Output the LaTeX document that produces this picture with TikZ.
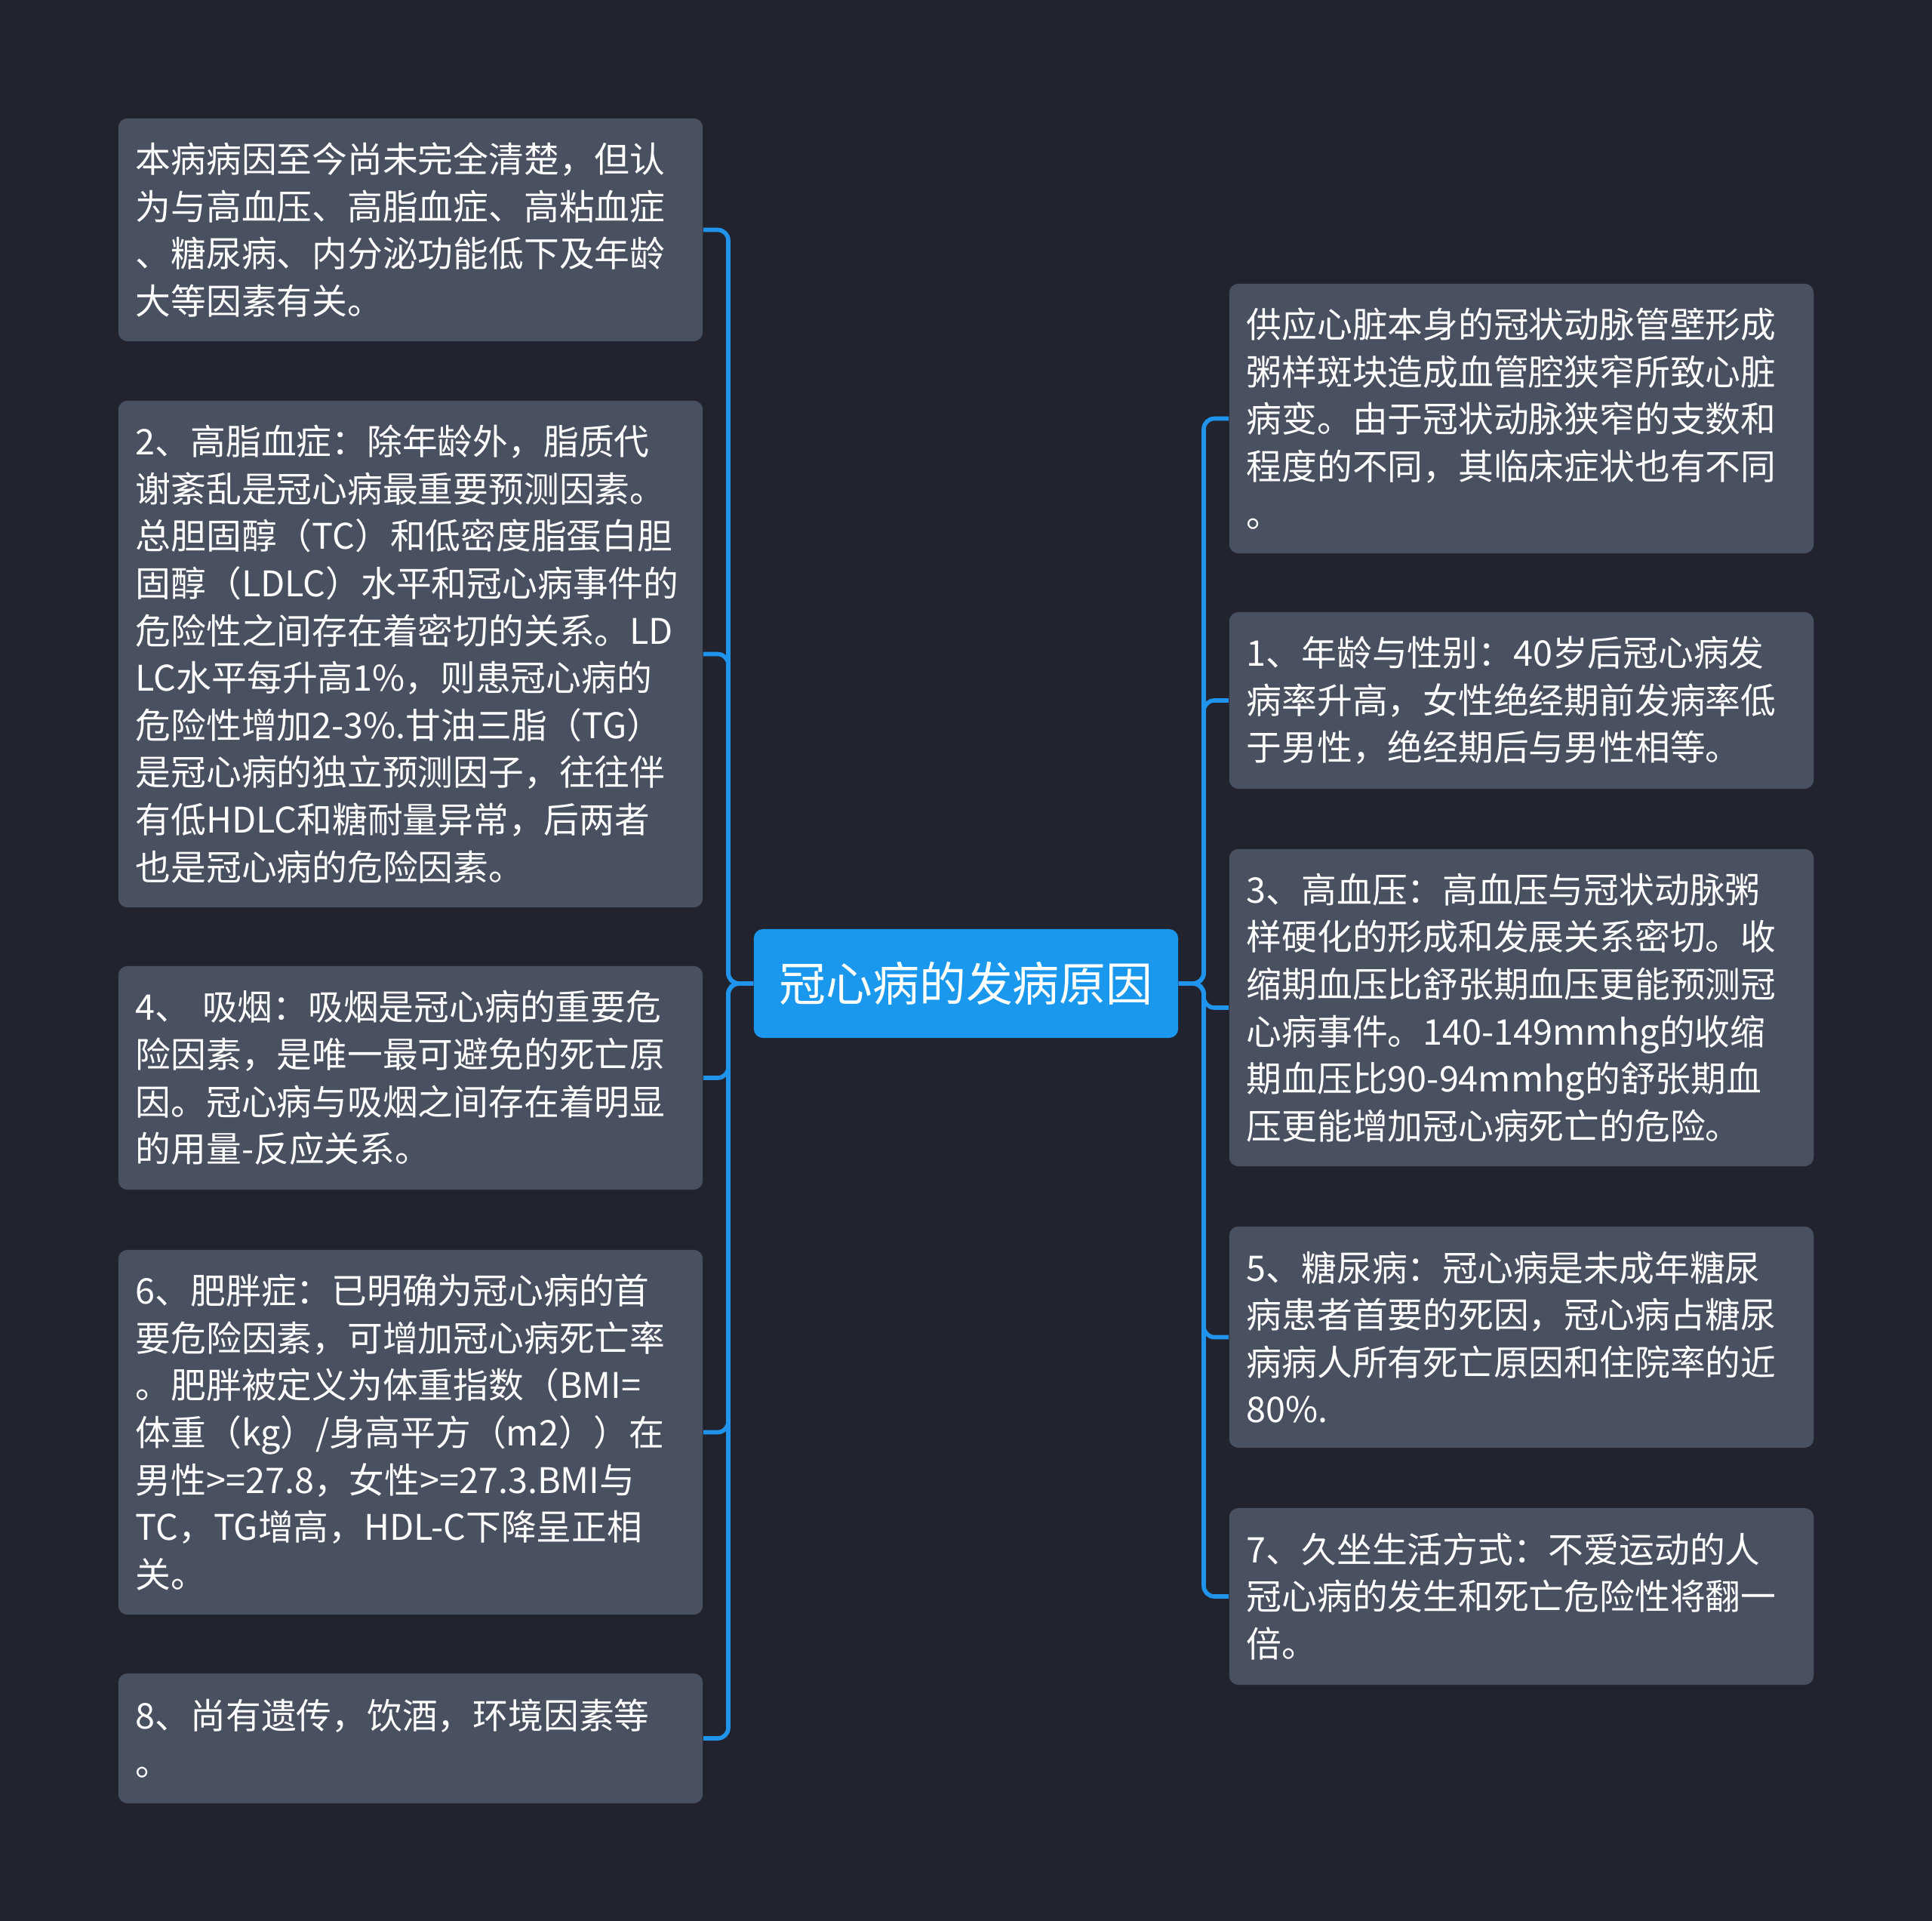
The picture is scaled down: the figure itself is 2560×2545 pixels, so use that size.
\documentclass[tikz,border=0pt]{standalone}
\usepackage{fontspec}
\setmainfont{Noto Sans CJK SC}
\definecolor{bgc}{HTML}{21242E}
\definecolor{boxc}{HTML}{495060}
\definecolor{ctrc}{HTML}{1A98EE}
\definecolor{linec}{HTML}{2094EC}
\tikzset{
  leaf/.style={fill=boxc, rounded corners=0.12cm, text=white, align=left,
    text width=7.28cm, inner xsep=0.23cm, inner ysep=0pt, minimum width=7.74cm,
    font=\fontsize{13.3pt}{17.8pt}\selectfont},
  root/.style={fill=ctrc, rounded corners=0.12cm, text=white,
    minimum width=5.62cm, minimum height=1.44cm, inner sep=0pt,
    font=\fontsize{17.6pt}{22pt}\selectfont},
  conn/.style={draw=linec, line width=1.6pt, rounded corners=0.14cm}
}
\begin{document}
\begin{tikzpicture}[x=0.01cm, y=-0.01cm]
\fill[bgc] (0,0) rectangle (2560,2545);
\useasboundingbox (0,0) rectangle (2560,2545);

\node[root] (c) at (1280,1303) {冠心病的发病原因};

\node[leaf, minimum height=2.95cm] (l1) at (544,304.5) {本病病因至今尚未完全清楚，但认\\为与高血压、高脂血症、高粘血症\\、糖尿病、内分泌功能低下及年龄\\大等因素有关。};
\node[leaf, minimum height=6.71cm] (l2) at (544,866.5) {2、高脂血症：除年龄外，脂质代\\谢紊乱是冠心病最重要预测因素。\\总胆固醇（TC）和低密度脂蛋白胆\\固醇（LDLC）水平和冠心病事件的\\危险性之间存在着密切的关系。LD\\LC水平每升高1\%，则患冠心病的\\危险性增加2-3\%.甘油三脂（TG）\\是冠心病的独立预测因子，往往伴\\有低HDLC和糖耐量异常，后两者\\也是冠心病的危险因素。};
\node[leaf, minimum height=2.96cm] (l3) at (544,1428) {4、 吸烟：吸烟是冠心病的重要危\\险因素，是唯一最可避免的死亡原\\因。冠心病与吸烟之间存在着明显\\的用量-反应关系。};
\node[leaf, minimum height=4.83cm] (l4) at (544,1897.5) {6、肥胖症：已明确为冠心病的首\\要危险因素，可增加冠心病死亡率\\。肥胖被定义为体重指数（BMI=\\体重（kg）/身高平方（m2））在\\男性>=27.8，女性>=27.3.BMI与\\TC，TG增高，HDL-C下降呈正相\\关。};
\node[leaf, minimum height=1.72cm] (l5) at (544,2303) {8、尚有遗传，饮酒，环境因素等\\。};

\node[leaf, minimum height=3.57cm] (r1) at (2016,554.5) {供应心脏本身的冠状动脉管壁形成\\粥样斑块造成血管腔狭窄所致心脏\\病变。由于冠状动脉狭窄的支数和\\程度的不同，其临床症状也有不同\\。};
\node[leaf, minimum height=2.34cm] (r2) at (2016,928) {1、年龄与性别：40岁后冠心病发\\病率升高，女性绝经期前发病率低\\于男性，绝经期后与男性相等。};
\node[leaf, minimum height=4.20cm] (r3) at (2016,1335) {3、高血压：高血压与冠状动脉粥\\样硬化的形成和发展关系密切。收\\缩期血压比舒张期血压更能预测冠\\心病事件。140-149mmhg的收缩\\期血压比90-94mmhg的舒张期血\\压更能增加冠心病死亡的危险。};
\node[leaf, minimum height=2.93cm] (r4) at (2016,1771.5) {5、糖尿病：冠心病是未成年糖尿\\病患者首要的死因，冠心病占糖尿\\病病人所有死亡原因和住院率的近\\80\%.};
\node[leaf, minimum height=2.34cm] (r5) at (2016,2115) {7、久坐生活方式：不爱运动的人\\冠心病的发生和死亡危险性将翻一\\倍。};

\coordinate (lb) at (965,1303);
\coordinate (rb) at (1595,1303);
\foreach \n in {l1,l2,l3,l4,l5}
  \draw[conn] (c.west) -- (lb) |- (\n.east);
\foreach \n in {r1,r2,r3,r4,r5}
  \draw[conn] (c.east) -- (rb) |- (\n.west);
\end{tikzpicture}
\end{document}
